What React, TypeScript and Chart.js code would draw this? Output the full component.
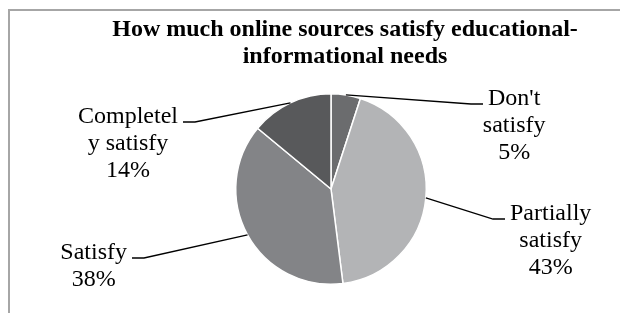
import React, { useEffect, useRef } from "react";
import { Chart, registerables } from "chart.js";

Chart.register(...registerables);

const TITLE_LINES = ["How much online sources satisfy educational-", "informational needs"];
const CATEGORIES = ["Don't satisfy", "Partially satisfy", "Satisfy", "Completely satisfy"];
const LABEL_LINES = [["Don't", "satisfy"], ["Partially", "satisfy"], ["Satisfy"], ["Completel", "y satisfy"]];
const VALUES = [5, 43, 38, 14];
const COLORS = ["#6b6c6e", "#b3b4b6", "#838487", "#58595b"];

// leader line end (relative to pie centre), side of label
const LEADER_ENDS = [
  { dx: 152, dy: -85, side: 1 },
  { dx: 174, dy: 30, side: 1 },
  { dx: -199, dy: 69, side: -1 },
  { dx: -148, dy: -67, side: -1 },
];

const SERIF = "'Liberation Serif', 'Times New Roman', serif";

const decorPlugin = {
  id: "decor",
  beforeDraw(chart: any) {
    const ctx = chart.ctx;
    ctx.save();
    ctx.fillStyle = "#ffffff";
    ctx.fillRect(0, 0, chart.width, chart.height);
    ctx.fillStyle = "#a6a6a6";
    ctx.fillRect(8, 9, chart.width - 8, 2);
    ctx.fillRect(8, 9, 2, chart.height - 9);
    ctx.restore();
  },
  afterDraw(chart: any) {
    const ctx = chart.ctx;
    ctx.save();
    // title
    ctx.fillStyle = "#000";
    ctx.font = `bold 24px ${SERIF}`;
    ctx.textAlign = "center";
    ctx.textBaseline = "alphabetic";
    ctx.fillText(TITLE_LINES[0], 345, 36);
    ctx.fillText(TITLE_LINES[1], 345, 63);

    const meta = chart.getDatasetMeta(0);
    const total = VALUES.reduce((a, b) => a + b, 0);
    ctx.font = `24px ${SERIF}`;
    meta.data.forEach((arc: any, i: number) => {
      const p = arc.getProps(["x", "y", "startAngle", "endAngle", "outerRadius"], true);
      const mid = (p.startAngle + p.endAngle) / 2;
      const sx = p.x + Math.cos(mid) * p.outerRadius;
      const sy = p.y + Math.sin(mid) * p.outerRadius;
      const le = LEADER_ENDS[i];
      const ex = p.x + le.dx;
      const ey = p.y + le.dy;
      const elx = ex - le.side * 12;
      ctx.strokeStyle = "#000";
      ctx.lineWidth = 1.3;
      ctx.beginPath();
      ctx.moveTo(sx, sy);
      ctx.lineTo(elx, ey);
      ctx.lineTo(ex, ey);
      ctx.stroke();

      const lines = [...LABEL_LINES[i], Math.round((VALUES[i] / total) * 100) + "%"];
      const w0 = ctx.measureText(lines[0]).width;
      const cx = le.side > 0 ? ex + 5 + w0 / 2 : ex - 5 - w0 / 2;
      ctx.fillStyle = "#000";
      ctx.textAlign = "center";
      lines.forEach((t, k) => ctx.fillText(t, cx, ey + 1 + k * 27));
    });
    ctx.restore();
  },
};

export default function App() {
  const ref = useRef<HTMLCanvasElement | null>(null);
  useEffect(() => {
    let chart: Chart | null = null;
    let cancelled = false;
    const make = () => {
      if (cancelled || !ref.current) return;
      chart = new Chart(ref.current, {
        type: "pie",
        data: {
          labels: CATEGORIES,
          datasets: [
            {
              data: VALUES,
              backgroundColor: COLORS,
              borderColor: "#ffffff",
              borderWidth: 1.5,
            },
          ],
        },
        options: {
          responsive: false,
          animation: false,
          devicePixelRatio: 1,
          layout: { padding: { left: 235, right: 193, top: 93, bottom: 28 } },
          plugins: {
            legend: { display: false },
            title: { display: false },
            tooltip: { enabled: false },
          },
        },
        plugins: [decorPlugin],
      });
    };
    const fonts: any = (document as any).fonts;
    if (fonts && fonts.load) {
      Promise.all([
        fonts.load("24px 'Liberation Serif'"),
        fonts.load("bold 24px 'Liberation Serif'"),
      ])
        .catch(() => null)
        .then(make);
    } else {
      make();
    }
    return () => {
      cancelled = true;
      if (chart) chart.destroy();
    };
  }, []);
  return (
    <canvas
      ref={ref}
      width={620}
      height={313}
      style={{ position: "fixed", left: 0, top: 0, width: 620, height: 313 }}
    />
  );
}
